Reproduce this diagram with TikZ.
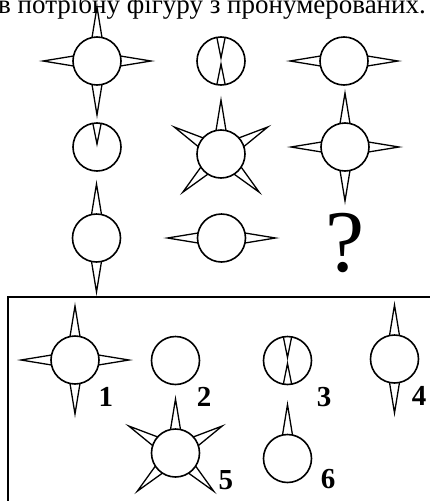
\documentclass[tikz,border=0pt]{standalone}
\usepackage{fontspec}
\setmainfont{Liberation Serif}
\usetikzlibrary{calc}

% spike pointing out of a ring, and spike pointing into it
\newcommand{\outspike}[2]{\draw[spike] ($(#1.center)+(#2-12:24)$) -- ($(#1.center)+(#2:54)$) -- ($(#1.center)+(#2+12:24)$);}
\newcommand{\inspike}[2]{\draw[spike] ($(#1.center)+(#2-10:24)$) -- ($(#1.center)+(#2:3)$) -- ($(#1.center)+(#2+10:24)$);}

\begin{document}
\begin{tikzpicture}[
                x=1pt, y=1pt,
                ring/.style={circle, draw, line width=1.6pt, minimum size=48pt, inner sep=0pt},
                spike/.style={line width=1.3pt},
                num/.style={anchor=base, inner sep=0pt, font=\fontsize{29}{29}\selectfont\bfseries},
                frame/.style={draw, line width=2.4pt}
            ]
            \clip (0,0) rectangle (430,-501);

            % Title
            \node[anchor=base west, inner sep=0pt, font=\fontsize{27}{27}\selectfont] (title) at (-2,-13) {в потрібну фігуру з пронумерованих.};

            % Row 1
            \node[ring] (a1) at (97,-61) {};
            \node[ring] (a2) at (221,-61) {};
            \node[ring] (a3) at (344,-61) {};
            \foreach \a in {0,90,180,270} {\outspike{a1}{\a}}
            \foreach \a in {90,270} {\inspike{a2}{\a}}
            \foreach \a in {0,180} {\outspike{a3}{\a}}

            % Row 2
            \node[ring] (b1) at (97,-147) {};
            \node[ring] (b2) at (221,-154) {};
            \node[ring] (b3) at (345,-147) {};
            \inspike{b1}{90}
            \foreach \a in {30,90,150,225,315} {\outspike{b2}{\a}}
            \foreach \a in {0,90,180,270} {\outspike{b3}{\a}}

            % Row 3
            \node[ring] (c1) at (96.5,-238) {};
            \node[ring] (c2) at (221.5,-238) {};
            \node[inner sep=0pt, font=\fontsize{88}{88}\selectfont] (quest) at (345.5,-243) {?};
            \foreach \a in {90,270} {\outspike{c1}{\a}}
            \foreach \a in {0,180} {\outspike{c2}{\a}}

            % Answers
            \draw[frame] (8,-297) rectangle (445,-515);
            \node[ring] (o1) at (75,-360) {};
            \node[ring] (o2) at (175.5,-360.5) {};
            \node[ring] (o3) at (287.5,-360.5) {};
            \node[ring] (o4) at (394.5,-359) {};
            \node[ring] (o5) at (175.5,-453) {};
            \node[ring] (o6) at (287.5,-458.5) {};
            \foreach \a in {0,90,180,270} {\outspike{o1}{\a}}
            \foreach \a in {90,270} {\inspike{o3}{\a}}
            \foreach \a in {90,270} {\outspike{o4}{\a}}
            \foreach \a in {30,90,150,225,315} {\outspike{o5}{\a}}
            \outspike{o6}{90}

            \node[num] (n1) at (105.8,-406.7) {1};
            \node[num] (n2) at (204.2,-406.7) {2};
            \node[num] (n3) at (324,-406.7) {3};
            \node[num] (n4) at (419,-405.5) {4};
            \node[num] (n5) at (225.8,-489.3) {5};
            \node[num] (n6) at (328,-488.3) {6};

        \end{tikzpicture}
\end{document}
